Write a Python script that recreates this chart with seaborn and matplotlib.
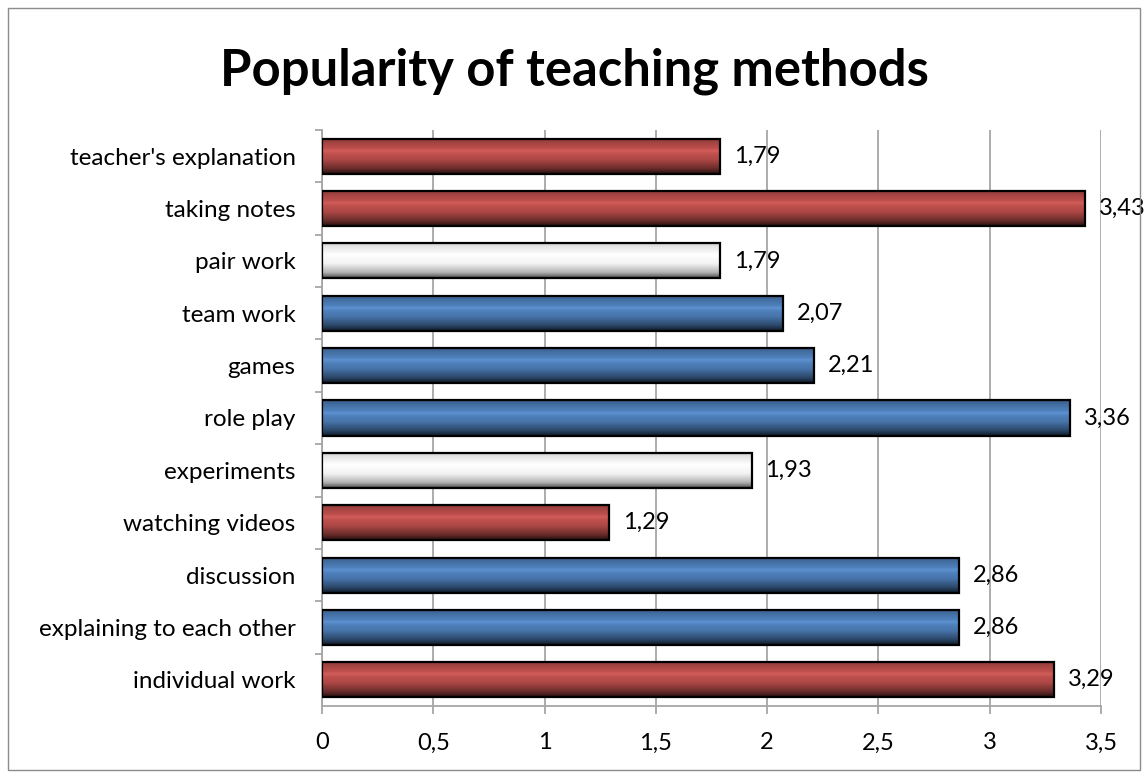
import numpy as np
import pandas as pd
import matplotlib.pyplot as plt
import matplotlib.colors as mcolors
from matplotlib.patches import Rectangle
import seaborn as sns

methods = ["teacher's explanation", "taking notes", "pair work", "team work", "games",
           "role play", "experiments", "watching videos", "discussion",
           "explaining to each other", "individual work"]
scores = [1.79, 3.43, 1.79, 2.07, 2.21, 3.36, 1.93, 1.29, 2.86, 2.86, 3.29]
x_ticks = [0, 0.5, 1, 1.5, 2, 2.5, 3, 3.5]

# colour of each bar, top to bottom
bar_colors = ['#C0504D', '#C0504D', '#FFFFFF', '#4F81BD', '#4F81BD', '#4F81BD',
              '#FFFFFF', '#C0504D', '#4F81BD', '#4F81BD', '#C0504D']

df = pd.DataFrame({'method': methods, 'score': scores})

sns.set_style('white')
plt.rcParams['font.family'] = ['Lato', 'DejaVu Sans']
plt.rcParams['text.color'] = 'black'
plt.rcParams['xtick.color'] = 'black'
plt.rcParams['ytick.color'] = 'black'

fig = plt.figure(figsize=(11.48, 7.74), dpi=100)
ax = fig.add_axes([322 / 1148, 1 - 706 / 774, (1101 - 322) / 1148, 576 / 774])

sns.barplot(data=df, x='score', y='method', hue='method', palette=bar_colors,
            legend=False, orient='h', width=0.67, edgecolor='black', linewidth=1.6,
            saturation=1, ax=ax, zorder=3)


def cylinder(color):
    # vertical shading so the bars look like tubes
    base = np.array(mcolors.to_rgb(color))
    pos = [0, 0.12, 0.35, 0.6, 0.85, 1.0]
    t = np.linspace(0, 1, 64)
    if base.min() > 0.9:
        f = np.interp(t, pos, [0.78, 0.9, 1.0, 0.95, 0.7, 0.3])
        rgb = np.ones(3)[None, :] * f[:, None]
    else:
        f = np.interp(t, pos, [0.7, 0.85, 1.05, 0.9, 0.55, 0.2])
        rgb = base[None, :] * f[:, None]
        rgb = rgb + np.clip(f - 1, 0, None)[:, None] * 0.75
    return np.clip(rgb, 0, 1)[:, None, :]


for patch in ax.patches:
    x0, y0 = patch.get_x(), patch.get_y()
    w, h = patch.get_width(), patch.get_height()
    img = ax.imshow(cylinder(patch.get_facecolor()), extent=(x0, x0 + w, y0 + h, y0),
                    aspect='auto', interpolation='bilinear', zorder=3.5)
    img.set_clip_path(patch)
    patch.set_zorder(4)
    patch.set_facecolor('none')

for cont in ax.containers:
    vals = [b.get_width() for b in cont]
    ax.bar_label(cont, labels=[f"{v:.2f}".replace('.', ',') for v in vals],
                 padding=10, fontsize=17, zorder=5)

ax.set_xlim(0, 3.5)
ax.set_ylim(len(methods) - 0.5, -0.5)
ax.set_xticks(x_ticks)
ax.set_xticklabels([f"{t:g}".replace('.', ',') for t in x_ticks])
ax.set_yticks(np.arange(len(methods)) - 0.5, minor=True)
ax.set_yticks(np.arange(len(methods)))
ax.set_yticklabels(methods)
ax.set_xlabel('')
ax.set_ylabel('')

ax.grid(True, axis='x', color='#A6A6A6', linewidth=1.3)
ax.set_axisbelow(True)
for s in ['top', 'right']:
    ax.spines[s].set_visible(False)
for s in ['left', 'bottom']:
    ax.spines[s].set_color('#A6A6A6')
    ax.spines[s].set_linewidth(1.3)

ax.tick_params(axis='x', which='major', length=6, width=1.3, color='#A6A6A6',
               direction='out', pad=13, labelsize=17, bottom=True, labelcolor='black')
ax.tick_params(axis='y', which='major', length=0, pad=19, labelsize=17.5,
               labelcolor='black')
ax.tick_params(axis='y', which='minor', length=5, width=1.3, color='#A6A6A6',
               direction='out', left=True)

fig.suptitle('Popularity of teaching methods', x=0.5, y=1 - 71 / 774, va='center',
             fontsize=36.5, fontweight='bold', color='black')
fig.add_artist(Rectangle((0.007, 0.005), 0.986, 0.985, transform=fig.transFigure,
                         fill=False, edgecolor='#8C8C8C', linewidth=1))

fig.savefig('out.png', dpi=100)
